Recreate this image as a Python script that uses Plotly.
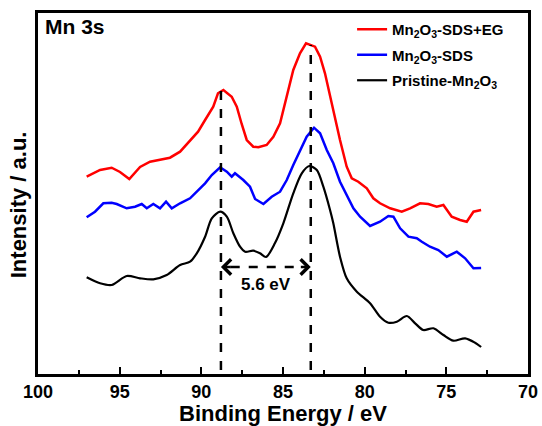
import plotly.graph_objects as go

# Binding energy (eV) and intensity (a.u.)
red_x = [97.02, 96.2, 95.49, 94.98, 94.41, 93.75, 93.14, 92.53, 91.92, 91.3, 90.69, 90.2, 89.77, 89.27,
         88.98, 88.65, 88.14, 87.83, 87.53, 87.22, 86.82, 86.51, 86.0, 85.59, 85.18, 84.77, 84.37, 83.96,
         83.59, 83.04, 82.73, 82.43, 82.12, 81.81, 81.51, 81.1, 80.79, 80.39, 79.87, 79.47, 79.06, 78.44,
         77.73, 77.22, 76.61, 76.1, 75.59, 75.18, 74.67, 74.16, 73.75, 73.34, 72.87]
red_y = [197.3, 204, 206.3, 202, 195, 207, 212.3, 214, 216.3, 222.3, 234, 242.3, 254, 267.3,
         280.7, 284, 277.3, 267.3, 250, 234, 227.3, 226.7, 229, 237.3, 250.7, 277.3, 304, 320.7,
         330.7, 327.3, 317.3, 300.7, 277.3, 254, 234, 207.3, 195.7, 192.3, 185.7, 175.7, 170.7, 165.7,
         162.3, 165.7, 170.7, 170, 167.3, 169, 157.3, 154, 152.3, 162.3, 164]

blue_x = [97.02, 96.51, 96.0, 95.49, 95.18, 94.57, 94.06, 93.65, 93.34, 92.94, 92.53, 92.16, 91.81, 91.3,
          90.69, 90.28, 89.77, 89.36, 88.85, 88.44, 88.14, 87.94, 87.43, 87.02, 86.71, 86.2, 85.69, 85.18,
          84.77, 84.37, 83.96, 83.55, 83.1, 82.73, 82.32, 81.92, 81.51, 81.1, 80.69, 80.28, 79.67, 79.06,
          78.55, 78.24, 77.83, 77.32, 76.81, 76.5, 76.0, 75.49, 74.97, 74.36, 73.85, 73.34, 72.87]
blue_y = [156.7, 162.3, 170.7, 171.3, 170, 165.7, 167.3, 170, 165.7, 170, 165.7, 172.3, 165.7, 170.7,
          175.7, 182.3, 190.7, 199, 206.7, 202.3, 197.3, 200.7, 194, 187.3, 175, 170, 177.3, 182.3,
          194, 209, 224, 237.3, 246.3, 240.7, 224, 210.7, 192.3, 179, 165.7, 157.3, 148, 152.3,
          158, 157.3, 145.7, 137.3, 135.7, 132.3, 127.3, 124, 117.3, 122.3, 115.7, 105.7, 106]

black_x = [97.02, 96.2, 95.49, 94.57, 93.75, 92.94, 92.12, 91.3, 90.69, 90.28, 89.77, 89.36, 88.85, 88.44,
           88.04, 87.63, 87.32, 86.82, 86.41, 86.04, 85.49, 84.98, 84.37, 83.85, 83.39, 82.93, 82.53,
           82.12, 81.92, 81.51, 81.1, 80.48, 79.67, 79.06, 78.55, 78.03, 77.42, 76.91, 76.41, 75.79,
           75.18, 74.57, 73.85, 73.24, 72.87]
black_y = [96.7, 90.7, 89, 98, 95.7, 94.7, 99, 109, 112.3, 120.7, 137.3, 155.7, 162.3, 157.3,
           140.7, 127.3, 122.3, 123.3, 120.7, 117, 131, 150.7, 180.7, 200.7, 208, 204, 187.3,
           164, 150.7, 117.3, 95.7, 82.3, 70.7, 57.3, 51.3, 52.3, 58, 50.7, 44, 45.7,
           39, 33.3, 35.7, 31.3, 27]

names = ["Mn<sub>2</sub>O<sub>3</sub>-SDS+EG", "Mn<sub>2</sub>O<sub>3</sub>-SDS", "Pristine-Mn<sub>2</sub>O<sub>3</sub>"]
peak_positions = [88.8, 83.3]
peak_tops = [284, 329]
split_label = "5.6 eV"
arrow_level = 107
x_ticks = [100, 95, 90, 85, 80, 75, 70]

FONT = "Arial, Liberation Sans, sans-serif"

def bf(size):
    return dict(family=FONT, size=size, color="black", weight="bold")

fig = go.Figure()
fig.add_trace(go.Scatter(x=red_x, y=red_y, mode="lines", name=names[0],
                         line=dict(color="#ff0000", width=2.5), legendgroup="a"))
fig.add_trace(go.Scatter(x=blue_x, y=blue_y, mode="lines", name=names[1],
                         line=dict(color="#0000ff", width=2.5), legendgroup="b"))
fig.add_trace(go.Scatter(x=black_x, y=black_y, mode="lines", name=names[2],
                         line=dict(color="#000000", width=2.2, shape="spline", smoothing=0.8),
                         legendgroup="c"))

for px, top in zip(peak_positions, peak_tops):
    fig.add_shape(type="line", x0=px, x1=px, y0=4, y1=top, xref="x", yref="y",
                  line=dict(color="black", width=2.5, dash="dash"))

mid = (peak_positions[0] + peak_positions[1]) / 2
fig.add_shape(type="line", x0=peak_positions[0] - 0.6, x1=peak_positions[1] + 0.6,
              y0=arrow_level, y1=arrow_level, xref="x", yref="y",
              line=dict(color="black", width=2.5, dash="dash"))
for px, off in [(peak_positions[0], -0.7), (peak_positions[1], 0.7)]:
    fig.add_annotation(x=px, y=arrow_level, ax=px + off, ay=arrow_level, axref="x", ayref="y",
                       xref="x", yref="y", text="", showarrow=True, arrowhead=4,
                       arrowsize=1.2, arrowwidth=2.5, arrowcolor="black")
fig.add_annotation(x=mid, y=arrow_level - 17, text=split_label, showarrow=False,
                   font=bf(17), xref="x", yref="y")
fig.add_annotation(x=0.01, y=1.0, xref="paper", yref="paper", xanchor="left", yanchor="top",
                   text="Mn 3s", showarrow=False, font=bf(21))
# y-axis title placed as rotated text to match reference position
fig.add_annotation(x=-0.041, y=0.47, xref="paper", yref="paper", xanchor="center", yanchor="middle",
                   text="Intensity / a.u.", textangle=-90, showarrow=False, font=bf(22))

fig.update_layout(
    width=542, height=426,
    margin=dict(l=38, r=14, t=13, b=52, autoexpand=False),
    paper_bgcolor="white", plot_bgcolor="white",
    font=dict(family=FONT, color="black"),
    showlegend=True,
    legend=dict(x=0.641, y=1.0, xanchor="left", yanchor="top", bgcolor="rgba(0,0,0,0)",
                font=bf(15), tracegroupgap=3),
    xaxis=dict(range=[100, 70], tickvals=x_ticks,
               ticks="inside", ticklen=7, tickwidth=2, tickcolor="black",
               minor=dict(dtick=2.5, ticks="inside", ticklen=4, tickwidth=2, tickcolor="black"),
               showline=True, linewidth=2.5, linecolor="black", mirror=True, showgrid=False,
               zeroline=False, tickfont=bf(18), automargin=False,
               title=dict(text="Binding Energy / eV", font=bf(22), standoff=1)),
    yaxis=dict(range=[0, 361], showticklabels=False, ticks="", showline=True, linewidth=2.5,
               linecolor="black", mirror=True, showgrid=False, zeroline=False, automargin=False),
)

fig.write_html("out.html", config={"displayModeBar": False},
               post_script="document.body.style.margin='0';document.body.style.padding='0';")
